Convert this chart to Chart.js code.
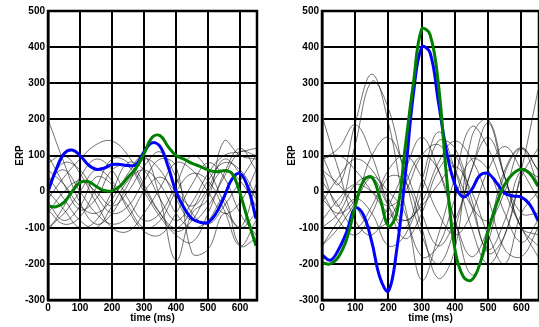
<!DOCTYPE html>
<html><head><meta charset="utf-8">
<script src="https://cdn.jsdelivr.net/npm/chart.js@4"></script>
<style>
html,body{margin:0;padding:0;background:#fff;}
#wrap{position:relative;width:539px;height:327px;}
.box{position:absolute;top:0;height:327px;}
</style></head>
<body>
<div id="wrap">
<div class="box" style="left:0;width:270px"><canvas id="c1"></canvas></div>
<div class="box" style="left:270px;width:269px"><canvas id="c2"></canvas></div>
</div>
<script>
// ---- data ----
const timesThick = [0,25,50,75,100,125,150,175,200,225,250,275,300,325,350,375,400,425,450,475,500,525,550,575,600,625,650];
const timesThin = [0,50,100,150,200,250,300,350,400,450,500,550,600,650];
const yTickValues = [-300,-200,-100,0,100,200,300,400,500];
const xTickValues = [0,100,200,300,400,500,600];

const leftBlue  = [0,60,105,115,100,75,62,65,75,75,72,75,110,135,125,70,0,-45,-75,-85,-85,-60,-15,35,50,10,-75];
const leftGreen = [-40,-42,-30,0,25,28,15,3,2,15,40,65,105,150,155,125,100,90,78,70,60,55,58,50,-5,-80,-150];
const rightBlue = [-175,-190,-160,-110,-45,-65,-140,-240,-275,-160,40,270,400,385,250,110,20,-15,5,45,50,25,-5,-12,-15,-35,-80];
const rightGreen= [-197,-200,-180,-130,-40,30,40,-20,-95,-60,120,300,450,435,300,40,-160,-235,-245,-200,-110,-35,20,50,62,50,15];

const leftThin = [
  [200,80,-30,-90,-60,20,90,60,-20,-80,-40,40,110,100],
  [-20,40,90,130,140,100,20,-60,-110,-80,0,60,30,-40],
  [60,20,-40,-60,-20,50,100,-20,-190,-60,-20,140,100,90],
  [-100,-60,0,60,30,-50,-110,-120,-60,20,80,40,-60,-120],
  [20,80,60,-10,-60,-40,30,90,70,-170,-160,-60,-100,20],
  [-50,-90,-70,10,90,80,10,-60,-100,-50,30,80,60,-10],
  [40,-20,-80,-100,-40,30,60,20,-60,-100,-80,-20,-150,-130],
  [-110,-40,40,90,60,-20,-80,-60,20,100,60,-30,-100,-60],
  [80,100,50,-30,-100,-110,-60,10,80,60,0,-60,-30,60],
  [-60,0,30,0,-40,0,70,110,40,-60,-90,-40,30,100],
  [0,-50,-100,-80,0,80,60,-20,-80,-30,50,100,110,120],
  [30,60,0,-60,-90,-70,0,40,0,-40,10,90,50,-20],
  [-30,-80,-40,40,20,-40,-100,-80,0,50,30,-50,-150,-80],
  [100,20,-50,-20,60,70,0,-70,-120,-140,-60,50,120,60]
];
const rightThin = [
  [100,20,190,325,190,-40,-180,-150,-20,90,60,-60,-140,-80],
  [60,-40,130,305,230,40,-120,-200,-100,60,150,40,-100,-120],
  [90,120,185,100,-40,-130,-60,60,100,-40,-160,-80,60,40],
  [210,60,-80,-120,-40,60,150,60,-80,-180,-100,60,120,20],
  [-100,-60,20,40,-40,-100,30,165,60,-100,-200,-120,40,120],
  [-150,-80,-20,-60,-150,-120,0,140,120,-20,-170,-120,60,280],
  [0,-80,-120,-60,40,30,-100,-240,-160,150,200,40,-100,-150],
  [-30,40,90,60,-20,-80,-30,80,140,90,-20,-160,-180,-100],
  [60,20,-40,-100,-80,20,100,60,-80,-230,-140,50,120,60],
  [-150,-100,-30,40,0,-60,-245,-120,40,180,120,0,-100,-180],
  [30,-40,-100,-40,60,100,40,-60,-120,-60,60,125,60,-20],
  [-80,-20,20,0,-40,0,100,130,60,-40,-80,0,120,60],
  [90,100,60,0,-60,-80,-40,20,70,0,-120,-200,-60,0],
  [-20,-60,-20,100,150,60,-60,-150,-80,60,190,40,-60,-60]
];

// ---- chart ----
const FONT = {family:'"Liberation Sans", Arial, sans-serif', size:10, weight:'bold'};
const toXY = (xs, ys) => ys.map((v,i)=>({x:xs[i], y:v}));

const frame = {
  id:'frame',
  afterDraw(chart){
    const a = chart.chartArea, ctx = chart.ctx;
    ctx.save();
    ctx.strokeStyle = '#000';
    ctx.lineWidth = 2.5;
    ctx.strokeRect(a.left, a.top, a.right - a.left, a.bottom - a.top);
    ctx.restore();
  }
};

function makeChart(id, blue, green, thin, pad){
  const ds = [];
  ds.push({data: toXY(timesThick, green), borderColor:'rgb(0,128,0)', borderWidth:3, order:0});
  ds.push({data: toXY(timesThick, blue), borderColor:'rgb(0,0,255)', borderWidth:3, order:1});
  thin.forEach(t => ds.push({data: toXY(timesThin, t), borderColor:'rgba(20,20,20,0.75)', borderWidth:0.8, order:2}));
  return new Chart(document.getElementById(id), {
    type:'line',
    data:{datasets: ds},
    plugins:[frame],
    options:{
      responsive:true, maintainAspectRatio:false, animation:false,
      devicePixelRatio:1,
      layout:{padding:{left:pad.left, right:pad.right, top:pad.top, bottom:0}},
      elements:{point:{radius:0}, line:{tension:0.4, fill:false}},
      plugins:{legend:{display:false}, tooltip:{enabled:false}},
      scales:{
        x:{type:'linear', min:0, max:653,
           afterBuildTicks: s => { s.ticks = xTickValues.map(v=>({value:v})); },
           afterFit: s => { s.height = 27; },
           ticks:{font:FONT, color:'#000', padding:2},
           grid:{color:'#000', lineWidth:2, drawTicks:false},
           border:{color:'#000', width:2.5},
           title:{display:true, text:'time (ms)', font:FONT, color:'#000', padding:{top:0,bottom:3}}},
        y:{type:'linear', min:-300, max:500,
           afterBuildTicks: s => { s.ticks = yTickValues.map(v=>({value:v})); },
           afterFit: s => { s.width = pad.axisW; },
           ticks:{font:FONT, color:'#000', padding:3},
           grid:{color:'#000', lineWidth:2, drawTicks:false},
           border:{color:'#000', width:2.5},
           title:{display:true, text:'ERP', font:FONT, color:'#000', padding:{top:pad.titleOff,bottom:0}}}
      }
    }
  });
}

makeChart('c1', leftBlue, leftGreen, leftThin, {left:0, right:13, top:11, axisW:48, titleOff:14});
makeChart('c2', rightBlue, rightGreen, rightThin, {left:0, right:0, top:11, axisW:52, titleOff:16});
</script>
</body></html>
